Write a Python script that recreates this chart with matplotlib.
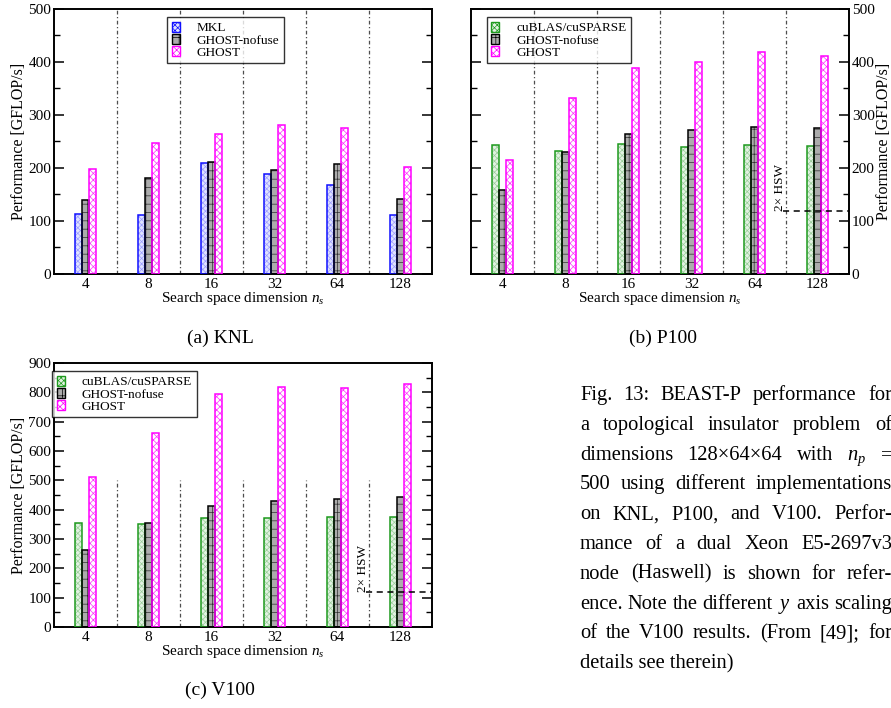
import matplotlib
matplotlib.use('Agg')
import matplotlib.pyplot as plt
from matplotlib.patches import Patch
from matplotlib.ticker import MultipleLocator
import numpy as np

plt.rcParams['font.family'] = ['Liberation Serif', 'DejaVu Serif']
plt.rcParams['mathtext.fontset'] = 'custom'
plt.rcParams['mathtext.rm'] = 'Liberation Serif'
plt.rcParams['mathtext.it'] = 'Liberation Serif:italic'
plt.rcParams['hatch.linewidth'] = 0.5

# ---------------- data ----------------
categories = ['4', '8', '16', '32', '64', '128']

knl_mkl = [113, 112, 210, 188, 168, 112]
knl_nofuse = [139, 181, 211, 196, 207, 141]
knl_ghost = [199, 248, 264, 281, 276, 202]

p100_cublas = [244, 233, 245, 240, 243, 241]
p100_nofuse = [159, 231, 265, 271, 277, 275]
p100_ghost = [215, 332, 389, 400, 419, 411]

v100_cublas = [354, 350, 370, 370, 374, 374]
v100_nofuse = [263, 356, 414, 429, 438, 442]
v100_ghost = [510, 663, 793, 819, 815, 827]

hsw_ref = 118

# ---------------- styles ----------------
STY = {
    'MKL': dict(face='#dfe2ff', hatch='xxxxxx', hc='#9a9aff', edge='#1010ff'),
    'cuBLAS/cuSPARSE': dict(face='#e2f2e2', hatch='xxxxxx', hc='#98cc98', edge='#1e9a1e'),
    'GHOST-nofuse': dict(face='#acacac', hatch='++', hc='#303030', edge='black'),
    'GHOST': dict(face='white', hatch='xxxxx', hc='#ff30ff', edge='#ff00ff'),
}

W, H = 891, 708
fig = plt.figure(figsize=(W / 100, H / 100), dpi=100)


def px_axes(l, t, r, b):
    return fig.add_axes([l / W, 1 - b / H, (r - l) / W, (b - t) / H])


def draw_panel(ax, series, ymax, sep_top=None, right=False, legend_xy=(0, 0.97), hsw=False):
    x = np.arange(len(categories))
    bw = 0.112
    offs = [-0.118, 0.0, 0.118]
    for (name, vals), off in zip(series, offs):
        s = STY[name]
        ax.bar(x + off, vals, bw, color=s['face'], hatch=s['hatch'], edgecolor=s['hc'],
               linewidth=0, zorder=2)
        ax.bar(x + off, vals, bw, fill=False, edgecolor=s['edge'], linewidth=1.1, zorder=3)
    top = ymax if sep_top is None else sep_top
    for i in range(len(categories) - 1):
        ax.plot([i + 0.5, i + 0.5], [0, top], color='0.3', lw=0.9,
                ls=(0, (3, 2, 1, 2)), zorder=1)
    ax.set_xlim(-0.5, len(categories) - 0.5)
    ax.set_ylim(0, ymax)
    ax.set_xticks(x)
    ax.set_xticklabels(categories)
    ax.yaxis.set_major_locator(MultipleLocator(100))
    ax.yaxis.set_minor_locator(MultipleLocator(50))
    ax.tick_params(axis='x', length=0, labelsize=11, pad=3)
    ax.tick_params(axis='y', which='both', direction='in', left=True, right=True, labelsize=11)
    ax.tick_params(axis='y', which='major', length=7, width=1.1, pad=2)
    ax.tick_params(axis='y', which='minor', length=4, width=1.0)
    for sp in ax.spines.values():
        sp.set_linewidth(1.4)
    ax.set_xlabel('Search space dimension $n_s$', fontsize=11, labelpad=-1)
    ax.set_ylabel('Performance [GFLOP/s]', fontsize=11.5, labelpad=1)
    if right:
        ax.tick_params(axis='y', labelleft=False, labelright=True)
        ax.yaxis.set_label_position('right')
    if hsw:
        ax.plot([4.45, 5.5], [hsw_ref, hsw_ref], color='black', lw=1.1, ls=(0, (4, 3)), zorder=4)
        ax.text(4.40, hsw_ref + 1, '2× HSW', rotation=90, ha='center', va='bottom', fontsize=9.5)
    handles = [Patch(facecolor=STY[n]['face'], edgecolor=STY[n]['edge'], hatch=STY[n]['hatch'],
                     linewidth=1.0) for n, _ in series]
    labels = [n for n, _ in series]
    leg = ax.legend(handles, labels, loc='upper left', bbox_to_anchor=legend_xy,
                    prop={'size': 9.5}, frameon=True, fancybox=False, handlelength=0.6,
                    handleheight=0.85, handletextpad=1.3, labelspacing=-0.05,
                    borderpad=0.35, borderaxespad=0)
    leg.get_frame().set_edgecolor('black')
    leg.get_frame().set_linewidth(1.0)
    leg.set_zorder(5)


ax_a = px_axes(54, 9, 432, 274)
draw_panel(ax_a, [('MKL', knl_mkl), ('GHOST-nofuse', knl_nofuse), ('GHOST', knl_ghost)],
           500, legend_xy=(0.299, 0.97))

ax_b = px_axes(471, 9, 849, 274)
draw_panel(ax_b, [('cuBLAS/cuSPARSE', p100_cublas), ('GHOST-nofuse', p100_nofuse), ('GHOST', p100_ghost)],
           500, right=True, legend_xy=(0.042, 0.97), hsw=True)

ax_c = px_axes(54, 363, 432, 627)
draw_panel(ax_c, [('cuBLAS/cuSPARSE', v100_cublas), ('GHOST-nofuse', v100_nofuse), ('GHOST', v100_ghost)],
           900, sep_top=500, legend_xy=(-0.005, 0.97), hsw=True)

fig.text(220 / W, 1 - 338 / H, '(a) KNL', ha='center', va='center', fontsize=14)
fig.text(663 / W, 1 - 338 / H, '(b) P100', ha='center', va='center', fontsize=14)
fig.text(220 / W, 1 - 690 / H, '(c) V100', ha='center', va='center', fontsize=14)

# ---------------- caption (justified) ----------------
caption_lines = [
    'Fig. 13: BEAST-P performance for',
    'a topological insulator problem of',
    'dimensions 128×64×64 with $n_p$ =',
    '500 using different implementations',
    'on KNL, P100, and V100. Perfor-',
    'mance of a dual Xeon E5-2697v3',
    'node (Haswell) is shown for refer-',
    'ence. Note the different $y$ axis scaling',
    'of the V100 results. (From [49]; for',
    'details see therein)',
]
renderer = fig.canvas.get_renderer()
x0, x1 = 580, 892
base0, step = 400, 29.8
CFS = 14.8
for i, line in enumerate(caption_lines):
    yb = 1 - (base0 + i * step) / H
    if i == len(caption_lines) - 1:
        fig.text(x0 / W, yb, line, fontsize=CFS, va='baseline', ha='left')
        continue
    words = line.split(' ')
    texts = [fig.text(0, yb, w, fontsize=CFS, va='baseline', ha='left') for w in words]
    widths = [t.get_window_extent(renderer).width for t in texts]
    gap = (x1 - x0 - sum(widths)) / (len(words) - 1)
    xp = x0
    for t, w in zip(texts, widths):
        t.set_x(xp / W)
        xp += w + gap

fig.savefig('out.png', dpi=100)
